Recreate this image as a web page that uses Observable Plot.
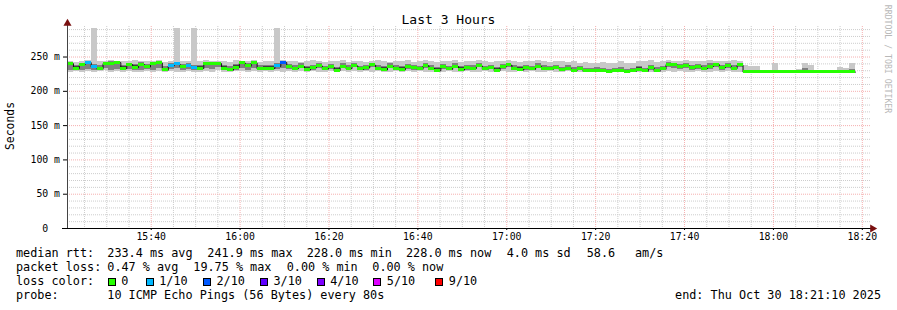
<!DOCTYPE html>
<html><head><meta charset="utf-8">
<script src="https://cdn.jsdelivr.net/npm/d3@7"></script>
<script src="https://cdn.jsdelivr.net/npm/@observablehq/plot@0.6"></script>
<style>
body{margin:0;background:#fff;}
#wrap{position:relative;width:897px;height:310px;overflow:hidden;font-family:"DejaVu Sans Mono",monospace;color:#000;background:#fff;}
#wrap svg{position:absolute;left:0;top:0;}
.t{position:absolute;white-space:pre;font-size:11.8px;line-height:1;transform:translateY(-50%);}
.box{position:absolute;width:6px;height:6px;border:1px solid #000;}
</style>
</head><body>
<div id="wrap"></div>
<script>
// ---- data ----
const endTime = new Date(2025, 9, 30, 18, 21, 10);
const stepSec = 80;
const med = [240.4,233.1,238.9,241.8,235.4,232.1,240.4,240.4,241.8,233.1,
 238.9,234.5,238.9,235.4,240.4,241.3,230.6,236.9,239.8,235.4,
 236.4,234.5,233.1,240.4,239.8,240.4,233.1,230.6,234.5,241.3,
 236.4,241.3,232.5,233.1,233.1,236.4,241.9,235.4,233,236,
 231,234,237,232,235,230,236,233,237,232,
 234,238,233,231,236,233,231,235,234,232,
 237,233,230,235,232,236,231,234,233,237,
 232,234,230,235,238,233,231,234,232,236,
 233,232,234,231,233,230,232,229,229,230,
 229,228.5,229,230,228.5,229,231,229,234,229,
 232,239,238,236,237,234,236,233,236,239,
 234,237,233,238,228,228,228,228,228,228,
 228,228,228,228,228,228,228,228,228,228,
 228,228,228];
const loss = [0,0,0,1,1,0,0,0,0,0,
 0,0,0,0,0,0,0,1,1,0,
 1,1,0,0,0,0,0,0,0,0,
 0,0,0,0,0,1,2,0,0,0,
 0,0,0,0,0,0,0,0,0,0,
 0,0,0,0,0,0,0,0,0,0,
 0,0,0,0,0,0,0,0,0,0,
 0,0,0,0,0,0,0,0,0,0,
 0,0,0,0,0,0,0,0,0,0,
 0,0,0,0,0,0,0,0,0,0,
 0,0,0,0,0,0,0,0,0,0,
 0,0,0,0,0,0,0,0,0,0,
 0,0,0,0,0,0,0,0,0,0,
 0,0,0];
const lo = [228,229,228,229,228,229,230,228,229,228,
 229,228,228,229,228,229,228,229,228,228,
 229,228,228,229,228,230,228,228,229,229,
 228,229,228,229,228,229,228,229,228,229,
 228,229,228,228,229,228,229,228,229,228,
 229,228,229,228,228,229,228,229,228,229,
 228,228,229,228,229,228,228,229,228,228,
 229,228,228,229,228,228,229,228,229,228,
 228,229,228,228,229,228,228,228,227,228,
 228,227,228,228,227,228,228,228,228,228,
 228,229,228,229,228,228,229,228,228,229,
 228,229,228,228,228,228,228,228,228,228,
 228,228,228,228,228,228,228,228,228,228,
 228,228,228];
const hi = [243,242,244,245,291,243,244,245,243,244,
 243,245,244,243,244,245,242,244,291,244,
 243,291,244,245,243,244,243,242,245,244,
 244,245,242,243,244,291,245,243,244,242,
 243,245,244,242,244,243,245,242,244,243,
 242,244,245,243,242,244,243,245,242,244,
 245,243,242,244,243,245,242,244,243,245,
 243,242,244,243,245,243,242,244,243,245,
 243,242,244,243,242,243,241,242,240,241,
 242,240,241,243,240,241,244,243,245,242,
 244,245,244,243,245,244,243,244,245,243,
 244,243,245,244,238,236,236,228,228,241,
 228,228,228,232,241,238,228,228,228,228,
 234,233,241];
const ml = [230,231,230,232,231,230,233,231,232,230,
 232,230,231,232,231,233,229,232,233,231,
 232,231,230,233,232,234,230,229,231,233,
 231,233,230,231,230,232,233,232,230,233,
 229,231,233,230,232,229,233,230,234,230,
 231,234,230,229,233,231,229,232,231,230,
 233,231,229,232,230,233,229,231,230,234,
 230,232,229,232,234,231,229,231,230,233,
 231,230,232,229,231,229,230,228,228,229,
 228,228,228,229,228,228,229,228,231,228,
 230,234,233,232,233,231,232,230,232,234,
 231,233,230,234,228,228,228,228,228,228,
 228,228,228,228,228,228,228,228,228,228,
 228,228,228];
const mh = [241,238,241,243,239,237,242,243,242,238,
 241,239,242,239,242,243,236,240,242,239,
 240,238,238,242,242,242,238,236,239,243,
 240,243,237,238,238,240,243,239,237,240,
 236,238,240,236,239,235,240,237,241,236,
 238,241,237,236,240,237,236,239,238,236,
 240,237,235,239,236,240,236,238,237,240,
 236,238,235,239,241,237,236,238,236,240,
 237,236,238,235,237,234,236,233,233,234,
 233,232,233,234,232,233,236,233,238,234,
 236,242,241,239,240,238,239,237,240,241,
 238,240,237,241,231,230,229,228,228,230,
 228,228,228,229,233,231,228,228,228,228,
 230,229,232];
const il = [238,231,236,239,233,230,238,238,239,231,
 236,232,236,233,238,239,229,234,237,233,
 234,232,231,238,237,238,231,229,232,239,
 234,239,230,231,231,234,239,233,231,234,
 229,232,235,230,233,229,234,231,235,230,
 232,236,231,229,234,231,229,233,232,230,
 235,231,229,233,230,234,229,232,231,235,
 230,232,229,233,236,231,229,232,230,234,
 231,230,232,229,231,228,230,228,228,228,
 228,228,228,228,228,228,229,228,232,228,
 230,237,236,234,235,232,234,231,234,237,
 232,235,231,236,228,228,228,228,228,228,
 228,228,228,228,228,228,228,228,228,228,
 228,228,228];
const ih = [242,236,240,243,237,235,242,242,243,236,
 240,237,240,237,242,243,233,239,241,237,
 238,236,236,242,241,242,236,233,237,243,
 238,243,235,236,236,238,243,237,235,238,
 234,236,239,234,237,233,238,235,239,234,
 236,240,235,234,238,235,234,237,236,234,
 239,235,233,237,234,238,234,236,235,239,
 234,236,233,237,240,235,234,236,234,238,
 235,234,236,233,235,232,234,231,231,232,
 231,230,231,232,230,231,234,231,236,231,
 234,241,240,238,239,236,238,235,238,241,
 236,239,235,240,228,228,228,228,228,228,
 228,228,228,228,228,228,228,228,228,228,
 228,228,228];
const lossLabels = ["0","1/10","2/10","3/10","4/10","5/10","9/10"];
const lossColors = ["#26ff00","#00b8ff","#0059ff","#5e00ff","#7e00ff","#dd00ff","#ff0000"];
const yMajor = [0,50,100,150,200,250];
const statLine1 = [["median rtt:",16],["233.4 ms avg",107.3],["241.9 ms max",207.3],["228.0 ms min",306.7],["228.0 ms now",406],["4.0 ms sd",506.7],["58.6",586.7],["am/s",635]];
const statLine2 = [["packet loss:",16],["0.47 % avg",107.3],["19.75 % max",193.3],["0.00 % min",286.7],["0.00 % now",372.3]];
const lossBoxX = [107.7,145.7,203,260,316.7,373.3,435.3];
const probeText = "10 ICMP Echo Pings (56 Bytes) every 80s";
const endText = "end: Thu Oct 30 18:21:10 2025";

// ---- build ----
const startTime = new Date(+endTime - 3*3600*1000);
const rows = med.map((m,i)=>({
  t0: new Date(+startTime + i*stepSec*1000),
  t1: new Date(+startTime + (i+1)*stepSec*1000),
  med: m, loss: loss[i], lo: lo[i], hi: hi[i], ml: ml[i], mh: mh[i], il: il[i], ih: ih[i]
}));
const linePts = rows.map(d=>({t:d.t0, v:d.med})).concat([{t:rows[rows.length-1].t1, v:rows[rows.length-1].med}]);
const yTop = 294.5;
const minorY = d3.range(10, 291, 10).filter(v=>v%50!==0);
const majorY = yMajor.filter(v=>v>0);
const minorX = d3.timeMinute.every(5).range(startTime, endTime).filter(t=>t.getMinutes()%20!==0);
const majorX = d3.timeMinute.every(20).range(startTime, endTime);

const chart = Plot.plot({
  width: 897, height: 310,
  marginLeft: 67, marginRight: 30, marginTop: 26, marginBottom: 82,
  style: {fontFamily: "DejaVu Sans Mono", fontSize: "9.8px", background: "#fff", color: "#000"},
  x: {type: "time", domain: [startTime, endTime], axis: null},
  y: {domain: [0, yTop], axis: null},
  marks: [
    Plot.ruleY(minorY, {stroke: "#cdcdcd", strokeDasharray: "1,1", insetRight: -3}),
    Plot.ruleX(minorX, {stroke: "#cdcdcd", strokeDasharray: "1,1"}),
    Plot.ruleY(majorY, {stroke: "#f5b0b0", strokeDasharray: "1,1", insetRight: -3}),
    Plot.ruleX(majorX, {stroke: "#f5b0b0", strokeDasharray: "1,1"}),
    Plot.rect(rows, {x1: "t0", x2: "t1", y1: "lo", y2: "hi", fill: "#c8c8c8", clip: true, shapeRendering: "crispEdges"}),
    Plot.rect(rows, {x1: "t0", x2: "t1", y1: "ml", y2: "mh", fill: "#808080", clip: true, shapeRendering: "crispEdges"}),
    Plot.rect(rows, {x1: "t0", x2: "t1", y1: "il", y2: "ih", fill: "#3e3e3e", clip: true, shapeRendering: "crispEdges"}),
    Plot.line(linePts, {x: "t", y: "v", curve: "step-after", stroke: "#111", strokeWidth: 1}),
    Plot.rect(rows, {x1: "t0", x2: "t1", y1: d=>d.med-2.1, y2: d=>d.med+2.1, fill: d=>lossColors[d.loss], shapeRendering: "crispEdges"}),
    Plot.axisY(yMajor, {anchor: "left", tickSize: 4, tickPadding: 3.5, stroke: "#000",
      tickFormat: d => d === 0 ? "0\u00a0\u00a0" : d + " m", fill: "#000"}),
    Plot.axisX(majorX, {anchor: "bottom", tickSize: 2, tickPadding: 3, tickFormat: d3.timeFormat("%H:%M"), fill: "#000"}),
    Plot.ruleX([startTime], {stroke: "#444", insetTop: -3}),
    Plot.ruleY([0], {stroke: "#000", insetLeft: -5, insetRight: -4}),
    Plot.dot([startTime], {x: d=>d, y: yTop, symbol: "triangle", r: 3, fill: "#7a1010", stroke: "none", dy: -3}),
    Plot.dot([endTime], {x: d=>d, y: 0, symbol: "triangle", rotate: 90, r: 3, fill: "#7a1010", stroke: "none", dx: 5})
  ]
});
const wrap = document.getElementById("wrap");
wrap.appendChild(chart);

function addText(txt, x, yc, extra) {
  const d = document.createElement("div");
  d.className = "t"; d.textContent = txt;
  d.style.left = x + "px"; d.style.top = yc + "px";
  if (extra) Object.assign(d.style, extra);
  wrap.appendChild(d);
  return d;
}
// title
addText("Last 3 Hours", 0, 19, {width: "897px", textAlign: "center", fontSize: "13px"});
// y label
addText("Seconds", 11, 126, {transform: "translate(-50%,-50%) rotate(-90deg)", fontSize: "11.4px"});
// rrdtool credit
addText("RRDTOOL / TOBI OETIKER", 888, 59, {transform: "translate(-50%,-50%) rotate(90deg)", fontSize: "8.2px", color: "#b8b8b8"});
// legend
statLine1.forEach(([s,x]) => addText(s, x, 254));
statLine2.forEach(([s,x]) => addText(s, x, 268));
addText("loss color:", 16, 282);
lossLabels.forEach((lab, i) => {
  const b = document.createElement("div");
  b.className = "box";
  b.style.left = lossBoxX[i] + "px"; b.style.top = "278px";
  b.style.background = lossColors[i];
  wrap.appendChild(b);
  addText(lab, lossBoxX[i] + 13.5, 282);
});
addText("probe:", 16, 296);
addText(probeText, 107.3, 296);
addText(endText, 0, 296, {right: "16px", left: "auto", textAlign: "right"});
</script>
</body></html>
